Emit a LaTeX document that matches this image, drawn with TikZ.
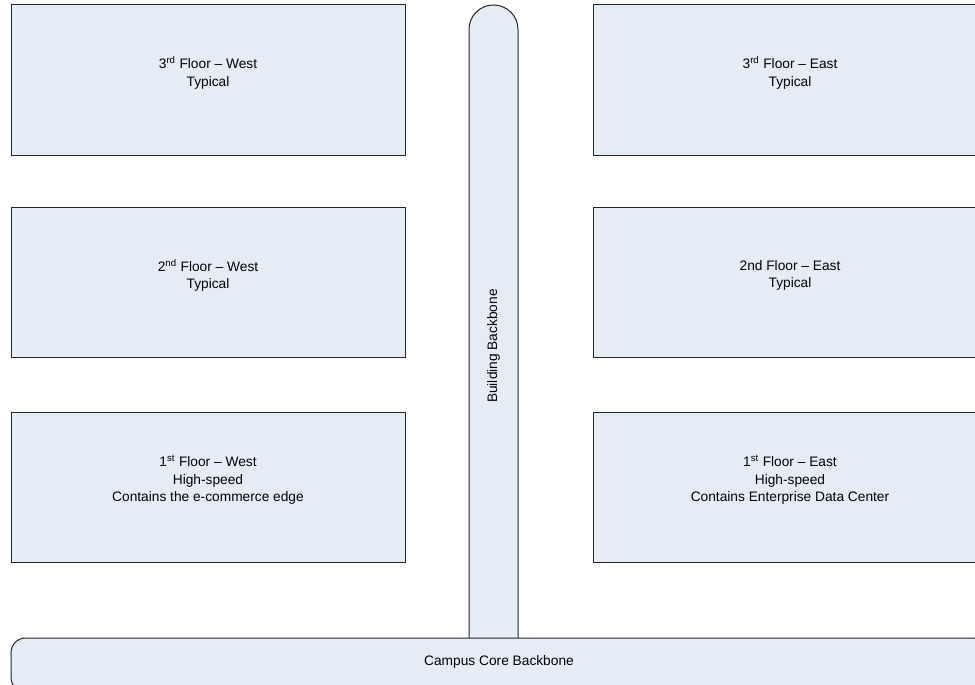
\documentclass[tikz,border=0pt]{standalone}
\usepackage{fontspec}
\setmainfont{Liberation Sans}
\definecolor{floorfill}{RGB}{230,236,246}
\tikzset{
  floor/.style={draw=black!85,line width=0.75pt,fill=floorfill,minimum width=295.5pt,minimum height=112.5pt,align=center,inner sep=0pt,text depth=12.7pt},
  backbone/.style={draw=black!85,line width=0.75pt,fill=floorfill,inner sep=0pt}
}
\begin{document}
\begin{tikzpicture}[x=0.75pt,y=-0.75pt,font=\fontsize{10.3}{13}\selectfont]
                \useasboundingbox (0,0) rectangle (975,685);
                \clip (0,0) rectangle (975,685);

                \node[floor] (w3) at (208, 80) {3\textsuperscript{rd} Floor – West\\Typical};
                \node[floor] (w2) at (208, 282.5) {2\textsuperscript{nd} Floor – West\\Typical};
                \node[floor] (w1) at (208, 487) {1\textsuperscript{st} Floor – West\\High-speed\\Contains the e-commerce edge};

                \node[floor] (e3) at (790, 80) {3\textsuperscript{rd} Floor – East\\Typical};
                \node[floor] (e2) at (790, 282.5) {2nd Floor – East\\Typical};
                \node[floor] (e1) at (790, 487) {1\textsuperscript{st} Floor – East\\High-speed\\Contains Enterprise Data Center};

                \node[backbone,rotate=90,minimum width=511.5pt,minimum height=36.75pt,rounded corners=18.3pt] (bldg) at (493.5, 346) {Building Backbone};
                \node[backbone,minimum width=732pt,minimum height=40.5pt,rounded corners=11pt,text depth=6.7pt] (campus) at (499, 665) {Campus Core Backbone};
            \end{tikzpicture}
\end{document}
